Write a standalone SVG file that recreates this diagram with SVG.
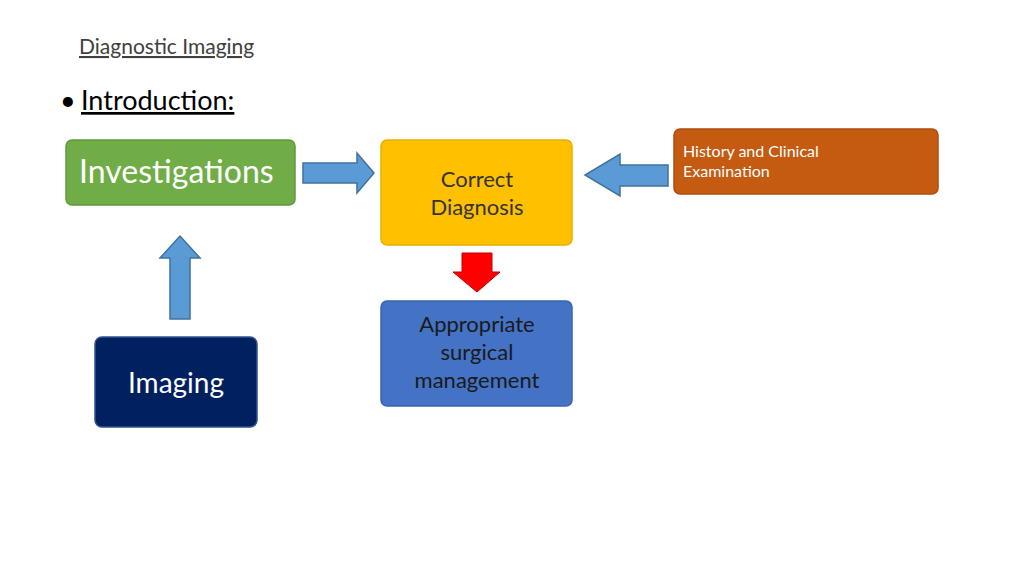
<svg xmlns="http://www.w3.org/2000/svg" width="1024" height="576" viewBox="0 0 1024 576">
<style>
text{font-family:Lato,"Open Sans","Liberation Sans",sans-serif}
.box{stroke-width:1.5}
.arr{fill:#5B9BD5;stroke:#41719C;stroke-width:1.5}
</style>
<rect width="1024" height="576" fill="#fff"/>
<text x="79" y="54" font-size="21" fill="#404040" text-decoration="underline">Diagnostic Imaging</text>
<text x="60" y="110" font-size="27" fill="#000">•</text>
<text x="81" y="110" font-size="27" fill="#000" text-decoration="underline">Introduction:</text>
<g id="connectors">
<polygon class="arr" points="303,163 357,163 357,153 374,173 357,193 357,183 303,183"/>
<polygon class="arr" points="668,165 620,165 620,154 585,175 620,196 620,186 668,186"/>
<polygon points="462,253 492,253 492,272 500,272 477,292 453,272 462,272" fill="#FF0000" stroke="#C00000" stroke-width="1"/>
<polygon class="arr" points="170,319 170,258 160,258 180,236 200,258 190,258 190,319"/>
</g>
<g id="investigations">
<rect x="66" y="140" width="229" height="65" rx="6" fill="#70AD47" stroke="#5E9A3A" class="box"/>
<text x="79" y="183" font-size="32" fill="#fff">Investigations</text>
</g>
<g id="correct-diagnosis">
<rect x="381" y="140" width="191" height="105" rx="6" fill="#FFC000" stroke="#E8AE00" class="box"/>
<text x="477" y="187" font-size="22" fill="#333" text-anchor="middle">Correct</text>
<text x="477" y="215" font-size="22" fill="#333" text-anchor="middle">Diagnosis</text>
</g>
<g id="history">
<rect x="674" y="129" width="264" height="65" rx="6" fill="#C55A11" stroke="#AE4E0E" class="box"/>
<text x="683" y="157" font-size="16" fill="#fff">History and Clinical</text>
<text x="683" y="177" font-size="16" fill="#fff">Examination</text>
</g>
<g id="management">
<rect x="381" y="301" width="191" height="105" rx="6" fill="#4472C4" stroke="#3A64AE" class="box"/>
<text x="477" y="332" font-size="22" fill="#1a1a1a" text-anchor="middle">Appropriate</text>
<text x="477" y="360" font-size="22" fill="#1a1a1a" text-anchor="middle">surgical</text>
<text x="477" y="388" font-size="22" fill="#1a1a1a" text-anchor="middle">management</text>
</g>
<g id="imaging">
<rect x="95" y="337" width="162" height="90" rx="7" fill="#002060" stroke="#2F528F" class="box"/>
<text x="176" y="393" font-size="28" fill="#fff" text-anchor="middle">Imaging</text>
</g>
</svg>
